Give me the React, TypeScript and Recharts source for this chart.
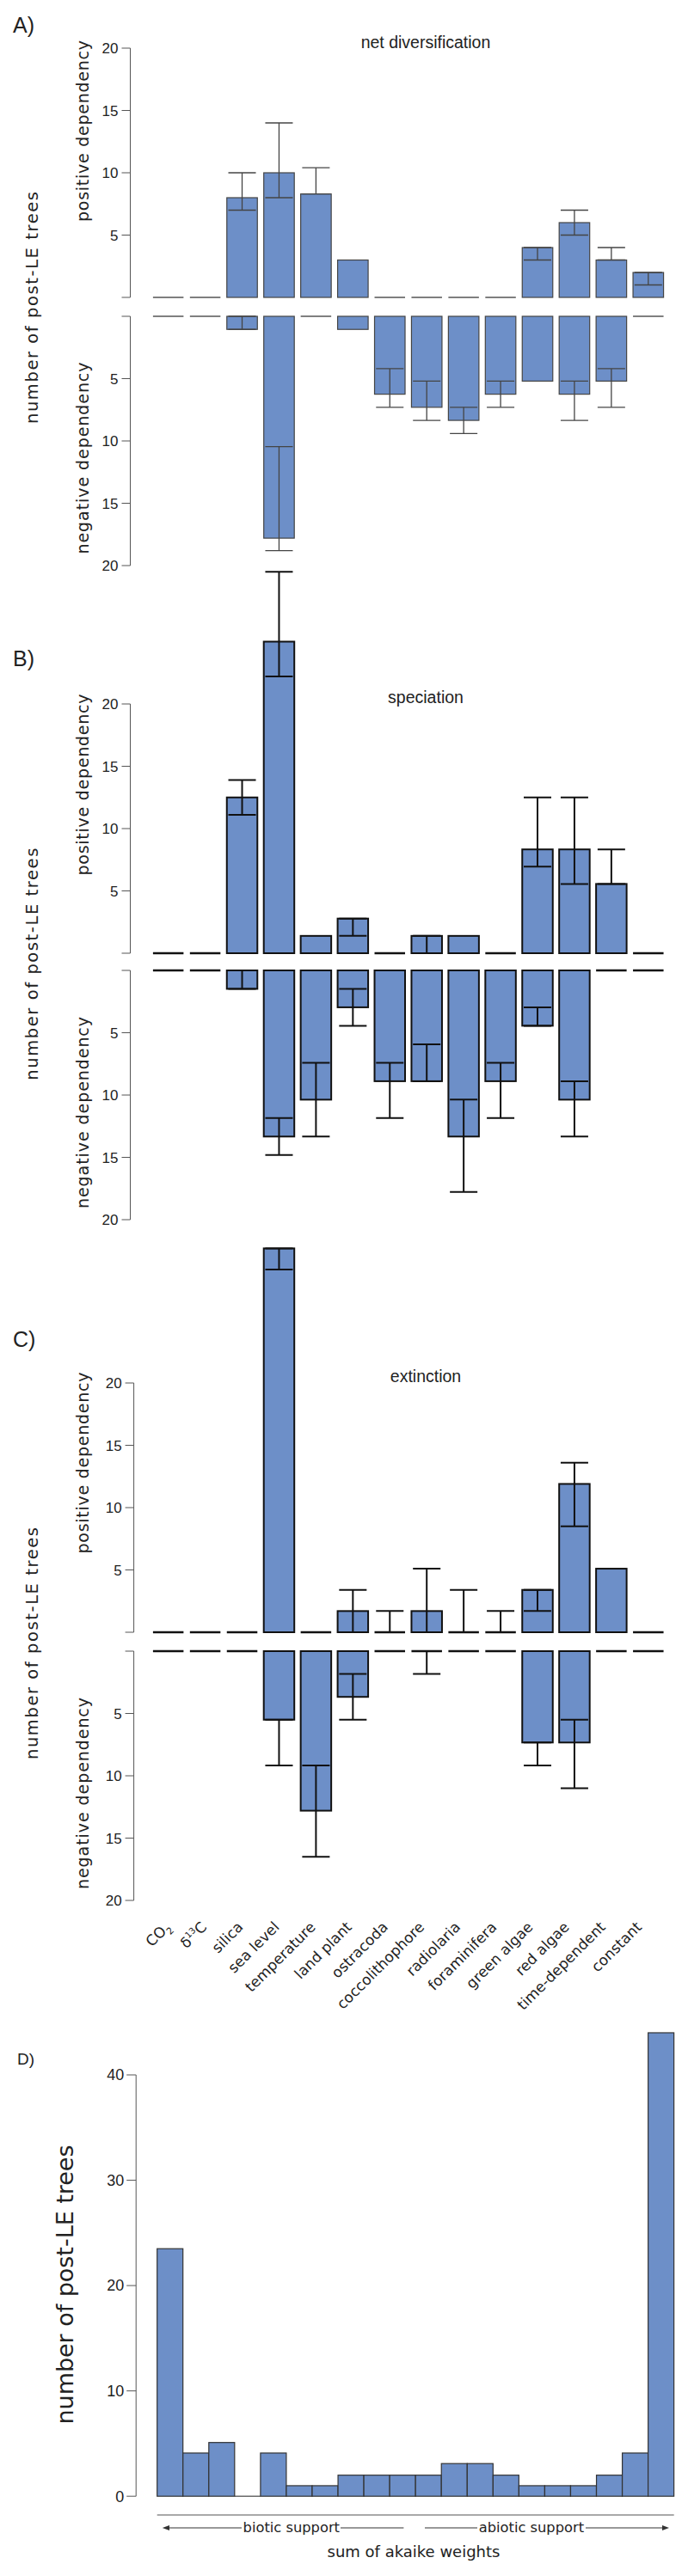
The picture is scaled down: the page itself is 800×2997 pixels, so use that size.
import React from 'react';
import { BarChart, Bar, XAxis, YAxis, ErrorBar } from 'recharts';

// categories shared by panels A-C
const categories = [
  'CO2', 'δ13C', 'silica', 'sea level', 'temperature', 'land plant', 'ostracoda',
  'coccolithophore', 'radiolaria', 'foraminifera', 'green algae', 'red algae',
  'time-dependent', 'constant',
];

type N = number | null;
const n = null;

// A) net diversification
const netPos = [0, 0, 8, 10, 8.3, 3, 0, 0, 0, 0, 4, 6, 3, 2];
const netPosLo: N[] = [n, n, 7, 8, 8.3, n, n, n, n, n, 3, 5, 3, 1];
const netPosHi: N[] = [n, n, 10, 14, 10.4, n, n, n, n, n, 4, 7, 4, 2];
const netNeg = [0, 0, 1.05, 17.8, 0, 1.05, 6.25, 7.3, 8.35, 6.25, 5.2, 6.25, 5.2, 0];
const netNegLo: N[] = [n, n, 0, 10.45, n, n, 4.2, 5.2, 7.3, 5.2, n, 5.2, 4.2, n];
const netNegHi: N[] = [n, n, 1.05, 18.8, n, n, 7.3, 8.35, 9.4, 7.3, n, 8.35, 7.3, n];

// B) speciation
const spPos = [0, 0, 12.5, 25, 1.39, 2.78, 0, 1.39, 1.39, 0, 8.33, 8.33, 5.56, 0];
const spPosLo: N[] = [n, n, 11.1, 22.2, n, 1.39, n, 0, n, n, 6.94, 5.56, 5.56, n];
const spPosHi: N[] = [n, n, 13.9, 30.6, n, 2.78, n, 1.39, n, n, 12.5, 12.5, 8.33, n];
const spNeg = [0, 0, 1.48, 13.33, 10.37, 2.96, 8.89, 8.89, 13.33, 8.89, 4.44, 10.37, 0, 0];
const spNegLo: N[] = [n, n, 0, 11.85, 7.41, 1.48, 7.41, 5.93, 10.37, 7.41, 2.96, 8.89, n, n];
const spNegHi: N[] = [n, n, 1.48, 14.81, 13.33, 4.44, 11.85, 8.89, 17.78, 11.85, 4.44, 13.33, n, n];

// C) extinction
const exPos = [0, 0, 0, 30.8, 0, 1.7, 0, 1.7, 0, 0, 3.4, 11.9, 5.1, 0];
const exPosLo: N[] = [n, n, n, 29.1, n, 0, 0, 0, 0, 0, 1.7, 8.5, n, n];
const exPosHi: N[] = [n, n, n, 30.8, n, 3.4, 1.7, 5.1, 3.4, 1.7, 3.4, 13.6, n, n];
const exNeg = [0, 0, 0, 5.5, 12.8, 3.67, 0, 0, 0, 0, 7.33, 7.33, 0, 0];
const exNegLo: N[] = [n, n, n, 5.5, 9.17, 1.83, n, 0, n, n, 7.33, 5.5, n, n];
const exNegHi: N[] = [n, n, n, 9.17, 16.5, 5.5, n, 1.83, n, n, 9.17, 11, n, n];

// D) histogram of summed akaike weights
const akaikeBins = [
  '0.05', '0.10', '0.15', '0.20', '0.25', '0.30', '0.35', '0.40', '0.45', '0.50',
  '0.55', '0.60', '0.65', '0.70', '0.75', '0.80', '0.85', '0.90', '0.95', '1.00',
];
const akaikeCounts = [23.5, 4.1, 5.1, 0, 4.1, 1, 1, 2, 2, 2, 2, 3.1, 3.1, 2, 1, 1, 1, 2, 4.1, 44];

const halfTicks = [0, 5, 10, 15, 20];
const dTicks = [0, 10, 20, 30, 40];

const FILL = '#6d8fc8';
const NUM_FONT = '"Liberation Sans", Arial, sans-serif';
const TXT_FONT = '"DejaVu Sans", sans-serif';
const PLOT_H = 290;

const rows = (vals: number[], lo: N[], hi: N[]) =>
  categories.map((name, i) => ({
    name,
    v: vals[i],
    err: lo[i] == null || hi[i] == null ? null : [vals[i] - (lo[i] as number), (hi[i] as number) - vals[i]],
  }));

const barShape = (stroke: string, sw: number, zeroStroke: string, zeroW: number) => (p: any) => {
  const { x, y, width, height, fill } = p;
  const h = Math.abs(height || 0);
  if (h < 0.5) {
    return <line x1={x} x2={x + width} y1={y} y2={y} stroke={zeroStroke} strokeWidth={zeroW} />;
  }
  const top = height < 0 ? y + height : y;
  return <rect x={x} y={top} width={width} height={h} fill={fill} stroke={stroke} strokeWidth={sw} />;
};

const CatTick = (props: any) => {
  const { x, y, payload, index } = props;
  const v = payload.value;
  let content: React.ReactNode = v;
  if (v === 'CO2') {
    content = (
      <>
        <tspan>CO</tspan>
        <tspan fontSize={11} dy={5}>2</tspan>
      </>
    );
  } else if (v === 'δ13C') {
    content = (
      <>
        <tspan>δ</tspan>
        <tspan fontSize={10} dy={-7}>13</tspan>
        <tspan dy={7}>C</tspan>
      </>
    );
  }
  return (
    <g transform={`translate(${x + 4 - 0.8 * index},${y + 32})`}>
      <text textAnchor="end" transform="rotate(-45)" fontFamily={TXT_FONT} fontSize={17} fill="#222">
        {content}
      </text>
    </g>
  );
};

function Half(props: { top: number; axisX: number; data: any[]; reversed?: boolean; bold?: boolean; showX?: boolean }) {
  const { top, axisX, data, reversed, bold, showX } = props;
  const xh = showX ? 130 : 0;
  const edge = bold ? '#111' : '#444';
  return (
    <div className="nc" style={{ position: 'absolute', left: 0, top, width: 800, height: PLOT_H + xh }}>
      <BarChart width={800} height={PLOT_H + xh} data={data} margin={{ top: 0, right: 25, bottom: 0, left: axisX - 60 }}>
        <XAxis
          dataKey="name"
          hide={!showX}
          height={xh}
          padding={{ left: 173.9 - axisX, right: 0 }}
          axisLine={false}
          tickLine={false}
          tickSize={0}
          tickMargin={0}
          interval={0}
          tick={(p: any) => <CatTick {...p} />}
        />
        <YAxis
          width={60}
          type="number"
          domain={[0, 20]}
          ticks={halfTicks}
          reversed={reversed}
          allowDataOverflow
          interval={0}
          tickSize={10}
          tickMargin={4}
          stroke="#555"
          tick={{ fill: '#222', fontSize: 17, fontFamily: NUM_FONT }}
          tickFormatter={(t: number) => (t === 0 ? '' : String(t))}
        />
        <Bar
          dataKey="v"
          fill={FILL}
          barSize={35.5}
          isAnimationActive={false}
          shape={barShape(edge, bold ? 2 : 1.2, bold ? '#111' : '#555', bold ? 2.5 : 1.6)}
        >
          <ErrorBar dataKey="err" direction="y" width={16} stroke={edge} strokeWidth={bold ? 2 : 1.3} />
        </Bar>
      </BarChart>
    </div>
  );
}

const RotLabel = ({ x, y, len, size, children }: any) => (
  <text
    transform={`translate(${x},${y}) rotate(-90)`}
    textAnchor="middle"
    fontFamily={TXT_FONT}
    fontSize={size}
    fill="#222"
    textLength={len}
    lengthAdjust="spacing"
  >
    {children}
  </text>
);

export default function App() {
  const dRows = akaikeBins.map((bin, i) => ({ bin, count: akaikeCounts[i] }));
  return (
    <div style={{ position: 'absolute', left: 0, top: 0, width: 800, height: 2997, background: '#fff' }}>
      <style>{`.nc svg{overflow:visible !important}.nc g,.nc path,.nc rect{clip-path:none !important}`}</style>

      <Half top={56} axisX={151.5} data={rows(netPos, netPosLo, netPosHi)} />
      <Half top={367.5} axisX={151.5} data={rows(netNeg, netNegLo, netNegHi)} reversed />

      <Half top={818.5} axisX={151.5} data={rows(spPos, spPosLo, spPosHi)} bold />
      <Half top={1129.3} axisX={151.5} data={rows(spNeg, spNegLo, spNegHi)} reversed bold />

      <Half top={1609} axisX={155.6} data={rows(exPos, exPosLo, exPosHi)} bold />
      <Half top={1921} axisX={155.6} data={rows(exNeg, exNegLo, exNegHi)} reversed bold showX />

      <div className="nc" style={{ position: 'absolute', left: 0, top: 2414.3, width: 800, height: 490.2 }}>
        <BarChart width={800} height={490.2} data={dRows} margin={{ top: 0, right: 16.3, bottom: 0, left: 98.2 }} barCategoryGap={0}>
          <XAxis dataKey="bin" hide padding={{ left: 24.5, right: 0 }} />
          <YAxis
            width={60}
            type="number"
            domain={[0, 40]}
            ticks={dTicks}
            allowDataOverflow
            interval={0}
            tickSize={11}
            tickMargin={3}
            stroke="#555"
            tick={{ fill: '#222', fontSize: 18, fontFamily: NUM_FONT }}
          />
          <Bar dataKey="count" fill={FILL} isAnimationActive={false} shape={barShape('#333', 1.2, '#444', 1.2)} />
        </BarChart>
      </div>

      <svg width={800} height={2997} style={{ position: 'absolute', left: 0, top: 0, pointerEvents: 'none' }}>
        <g fontFamily={NUM_FONT} fill="#222">
          <text x={15} y={38} fontSize={25}>A)</text>
          <text x={15} y={775} fontSize={25}>B)</text>
          <text x={15} y={1567} fontSize={25}>C)</text>
          <text x={20} y={2402} fontSize={19}>D)</text>
        </g>
        <g fontFamily={NUM_FONT} fill="#222" fontSize={19.5} textAnchor="middle">
          <text x={495} y={56}>net diversification</text>
          <text x={495} y={818}>speciation</text>
          <text x={495} y={1608}>extinction</text>
        </g>

        <RotLabel x={103} y={152.5} len={211} size={19}>positive dependency</RotLabel>
        <RotLabel x={103} y={533} len={223} size={19}>negative dependency</RotLabel>
        <RotLabel x={43.5} y={358} len={270} size={19.5}>number of post-LE trees</RotLabel>

        <RotLabel x={103} y={913} len={211} size={19}>positive dependency</RotLabel>
        <RotLabel x={103} y={1294.5} len={223} size={19}>negative dependency</RotLabel>
        <RotLabel x={43.5} y={1121.7} len={270} size={19.5}>number of post-LE trees</RotLabel>

        <RotLabel x={103} y={1702} len={211} size={19}>positive dependency</RotLabel>
        <RotLabel x={103} y={2086.5} len={223} size={19}>negative dependency</RotLabel>
        <RotLabel x={43.5} y={1912} len={270} size={19.5}>number of post-LE trees</RotLabel>

        <RotLabel x={85} y={2658} len={325} size={27}>number of post-LE trees</RotLabel>

        <line x1={182.7} x2={783.7} y1={2926} y2={2926} stroke="#555" strokeWidth={1.2} />
        <g stroke="#333" strokeWidth={1}>
          <line x1={195} x2={281} y1={2941} y2={2941} />
          <line x1={396} x2={469.4} y1={2941} y2={2941} />
          <line x1={494} x2={555} y1={2941} y2={2941} />
          <line x1={681} x2={771} y1={2941} y2={2941} />
        </g>
        <polygon points="188.8,2941 197,2938 197,2944" fill="#333" />
        <polygon points="778,2941 770,2938 770,2944" fill="#333" />
        <g fontFamily={TXT_FONT} fill="#222" textAnchor="middle">
          <text x={338.8} y={2946} fontSize={16.3}>biotic support</text>
          <text x={617.9} y={2946} fontSize={16.3}>abiotic support</text>
          <text x={481} y={2975} fontSize={18}>sum of akaike weights</text>
        </g>
      </svg>
    </div>
  );
}
